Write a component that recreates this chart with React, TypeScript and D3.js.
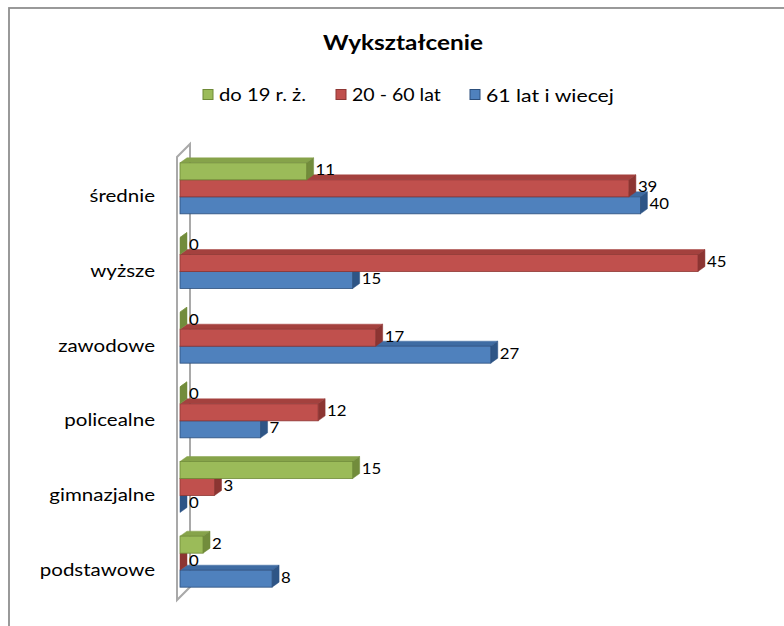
import React from 'react';
import * as d3 from 'd3';

const title = 'Wykształcenie';
const categories = ['średnie', 'wyższe', 'zawodowe', 'policealne', 'gimnazjalne', 'podstawowe'];
const seriesNames = ['do 19 r. ż.', '20 - 60 lat', '61 lat i wiecej'];
const youth = [11, 0, 0, 0, 15, 2];
const adults = [39, 45, 17, 12, 3, 0];
const seniors = [40, 15, 27, 7, 0, 8];
const xDomain = [0, 50];

const palettes = [
  { front: '#9BBB59', top: '#86A34A', side: '#728C3C', edge: '#6F8A37' },
  { front: '#C0504D', top: '#A4413E', side: '#8C3532', edge: '#8E3734' },
  { front: '#4F81BD', top: '#3F6CA3', side: '#2E5586', edge: '#2C4F7C' },
];

const FONT = 'Lato, "Open Sans", "Liberation Sans", sans-serif';

function SText(props: { x: number; y: number; s: number; size: number; anchor?: string; weight?: number; children: React.ReactNode }) {
  const { x, y, s, size, anchor = 'start', weight = 400, children } = props;
  return (
    <text
      transform={`translate(${x},${y}) scale(${s},1)`}
      textAnchor={anchor}
      dominantBaseline="central"
      fontSize={size}
      fontWeight={weight}
      fill="#000"
    >
      {children}
    </text>
  );
}

export default function App() {
  const series = [youth, adults, seniors];
  const x = d3.scaleLinear().domain(xDomain).range([180, 755.5]);
  const y = d3.scaleBand<string>().domain(categories).range([151, 599]).paddingInner(0.317).paddingOuter(0.1585);
  const ys = d3.scaleBand<number>().domain([0, 1, 2]).range([0, y.bandwidth()]);
  const dx = 7;
  const dy = 5;
  const h = ys.bandwidth();

  const legendX = [203, 336, 470];
  const legendScale = [1.19, 1.15, 1.25];

  return (
    <svg width={784} height={626} style={{ position: 'absolute', left: 0, top: 0, background: '#fff' }} fontFamily={FONT}>
      <rect x={9} y={8} width={820} height={700} fill="#fff" stroke="#8f8f8f" strokeWidth={1.8} />
      <SText x={403} y={42} s={1.16} size={21} weight={700} anchor="middle">{title}</SText>
      {seriesNames.map((s, i) => (
        <g key={s}>
          <rect x={legendX[i]} y={89.5} width={10} height={10} fill={palettes[i].front} stroke={palettes[i].edge} strokeWidth={1} />
          <SText x={legendX[i] + 16} y={95} s={legendScale[i]} size={17}>{s}</SText>
        </g>
      ))}
      {/* wall */}
      <g fill="none" stroke="#a9a9a9" strokeWidth={2}>
        <path d="M177,157 L190,144 L190,587 L177,600 Z" />
      </g>
      {categories.map((c, ci) => {
        const g0 = y(c)!;
        return (
          <g key={c}>
            {[2, 1, 0].map((si) => {
              const v = series[si][ci];
              const p = palettes[si];
              const yt = g0 + ys(si)!;
              const x0 = x(0);
              const x1 = x(v);
              return (
                <g key={si}>
                  <polygon points={`${x0},${yt} ${x0 + dx},${yt - dy} ${x1 + dx},${yt - dy} ${x1},${yt}`} fill={p.top} stroke={p.top} strokeWidth={0.5} />
                  <polygon points={`${x1},${yt} ${x1 + dx},${yt - dy} ${x1 + dx},${yt + h - dy} ${x1},${yt + h}`} fill={p.side} stroke={p.side} strokeWidth={0.5} />
                  {v > 0 && <rect x={x0} y={yt} width={x1 - x0} height={h} fill={p.front} stroke={p.edge} strokeWidth={0.8} />}
                </g>
              );
            })}
            {[0, 1, 2].map((si) => {
              const v = series[si][ci];
              const yt = g0 + ys(si)!;
              return (
                <SText key={'l' + si} x={x(v) + dx + 2} y={yt + h / 2 - 2} s={1.12} size={15}>{v}</SText>
              );
            })}
            <SText x={155} y={g0 + y.bandwidth() / 2 + 7} s={1.14} size={18} anchor="end">{c}</SText>
          </g>
        );
      })}
    </svg>
  );
}
